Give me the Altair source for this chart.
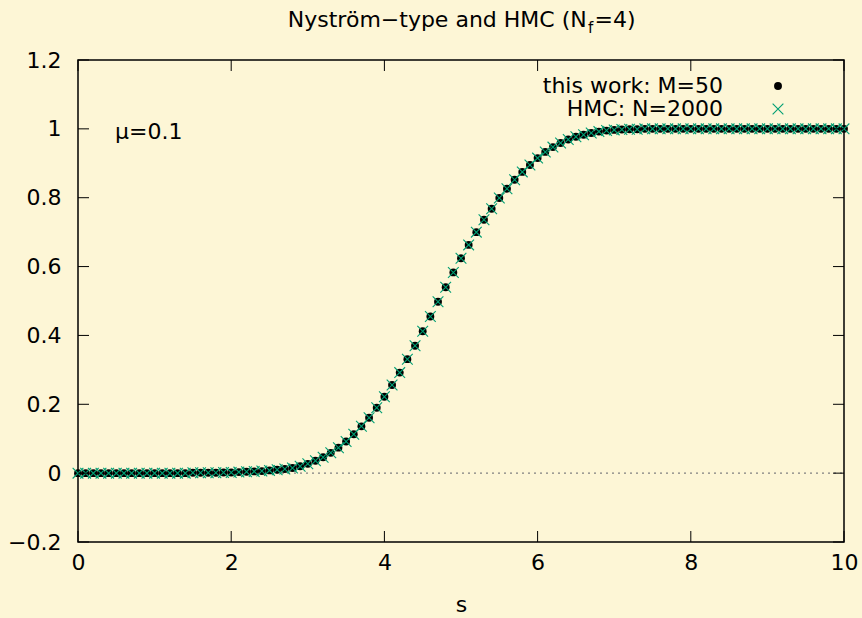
import altair as alt
import pandas as pd

# ---------------- data ----------------
s_values = [
    0.0, 0.1, 0.2, 0.3, 0.4, 0.5, 0.6, 0.7, 0.8, 0.9,
    1.0, 1.1, 1.2, 1.3, 1.4, 1.5, 1.6, 1.7, 1.8, 1.9,
    2.0, 2.1, 2.2, 2.3, 2.4, 2.5, 2.6, 2.7, 2.8, 2.9,
    3.0, 3.1, 3.2, 3.3, 3.4, 3.5, 3.6, 3.7, 3.8, 3.9,
    4.0, 4.1, 4.2, 4.3, 4.4, 4.5, 4.6, 4.7, 4.8, 4.9,
    5.0, 5.1, 5.2, 5.3, 5.4, 5.5, 5.6, 5.7, 5.8, 5.9,
    6.0, 6.1, 6.2, 6.3, 6.4, 6.5, 6.6, 6.7, 6.8, 6.9,
    7.0, 7.1, 7.2, 7.3, 7.4, 7.5, 7.6, 7.7, 7.8, 7.9,
    8.0, 8.1, 8.2, 8.3, 8.4, 8.5, 8.6, 8.7, 8.8, 8.9,
    9.0, 9.1, 9.2, 9.3, 9.4, 9.5, 9.6, 9.7, 9.8, 9.9,
    10.0,
]

this_work_m50 = [
    0.000, 0.000, 0.000, 0.000, 0.000, 0.000, 0.000, 0.000, 0.000, 0.000,
    0.000, 0.000, 0.000, 0.000, 0.000, 0.001, 0.001, 0.001, 0.001, 0.002,
    0.002, 0.003, 0.004, 0.005, 0.006, 0.008, 0.010, 0.012, 0.015, 0.020,
    0.027, 0.036, 0.046, 0.059, 0.074, 0.092, 0.113, 0.136, 0.161, 0.190,
    0.222, 0.256, 0.292, 0.331, 0.370, 0.412, 0.455, 0.498, 0.540, 0.583,
    0.624, 0.663, 0.700, 0.736, 0.768, 0.799, 0.826, 0.852, 0.875, 0.895,
    0.915, 0.933, 0.947, 0.959, 0.969, 0.977, 0.983, 0.988, 0.992, 0.995,
    0.997, 0.998, 0.999, 0.999, 1.000, 1.000, 1.000, 1.000, 1.000, 1.000,
    1.000, 1.000, 1.000, 1.000, 1.000, 1.000, 1.000, 1.000, 1.000, 1.000,
    1.000, 1.000, 1.000, 1.000, 1.000, 1.000, 1.000, 1.000, 1.000, 1.000,
    1.000,
]

hmc_n2000 = [
    0.000, 0.000, 0.000, 0.000, 0.000, 0.000, 0.000, 0.000, 0.000, 0.000,
    0.000, 0.000, 0.000, 0.000, 0.000, 0.001, 0.001, 0.001, 0.001, 0.002,
    0.002, 0.003, 0.004, 0.005, 0.006, 0.008, 0.010, 0.012, 0.015, 0.020,
    0.027, 0.036, 0.046, 0.059, 0.074, 0.092, 0.113, 0.136, 0.161, 0.190,
    0.222, 0.256, 0.292, 0.331, 0.370, 0.412, 0.455, 0.498, 0.540, 0.583,
    0.624, 0.663, 0.700, 0.736, 0.768, 0.799, 0.826, 0.852, 0.875, 0.895,
    0.915, 0.933, 0.947, 0.959, 0.969, 0.977, 0.983, 0.988, 0.992, 0.995,
    0.997, 0.998, 0.999, 0.999, 1.000, 1.000, 1.000, 1.000, 1.000, 1.000,
    1.000, 1.000, 1.000, 1.000, 1.000, 1.000, 1.000, 1.000, 1.000, 1.000,
    1.000, 1.000, 1.000, 1.000, 1.000, 1.000, 1.000, 1.000, 1.000, 1.000,
    1.000,
]

series_labels = ["this work: M=50", "HMC: N=2000"]
x_ticks = [0, 2, 4, 6, 8, 10]
y_ticks = [-0.2, 0.0, 0.2, 0.4, 0.6, 0.8, 1.0, 1.2]
x_domain = [0, 10]
y_domain = [-0.2, 1.2]
zero_line = {"v": [0.0], "s": [0.0], "s2": [10.0]}
title_main = "Nyström\u2212type and HMC (N"
title_sub = "f"
title_tail = "=4)"
annotation = "\u03bc=0.1"
x_title = "s"

# ---------------- styling ----------------
W, H = 766, 482
BG = "#fdf6d6"
FONT = "DejaVu Sans"
FS = 22
TEAL = "#009e73"
TICK = 11

df_tw = pd.DataFrame({"s": s_values, "v": this_work_m50})
df_hmc = pd.DataFrame({"s": s_values, "v": hmc_n2000})

xs = alt.Scale(domain=x_domain, nice=False, zero=False)
ys = alt.Scale(domain=y_domain, nice=False, zero=False)

x_axis = alt.Axis(values=x_ticks, ticks=False, domain=False, grid=False,
                  labelFlush=False, labelPadding=10, labelFontSize=FS,
                  labelFont=FONT, labelColor="black", title=x_title,
                  titleFont=FONT, titleFontSize=FS, titleFontWeight="normal",
                  titleColor="black", titlePadding=21, format="~g")
y_axis = alt.Axis(values=y_ticks, ticks=False, domain=False, grid=False,
                  labelPadding=17, labelFontSize=FS, labelFont=FONT,
                  labelColor="black", title=None, format="~g")

dots = alt.Chart(df_tw).mark_point(
    shape="circle", filled=True, size=62, color="black", opacity=1
).encode(
    x=alt.X("s:Q", scale=xs, axis=x_axis),
    y=alt.Y("v:Q", scale=ys, axis=y_axis),
)

cross_shape = "M-1,-1L1,1M-1,1L1,-1"
crosses = alt.Chart(df_hmc).mark_point(
    shape=cross_shape, filled=False, size=115, color=TEAL, strokeWidth=1.1, opacity=1
).encode(x="s:Q", y="v:Q")

zero = alt.Chart(pd.DataFrame(zero_line)).mark_rule(
    color="#808080", strokeDash=[2, 4], strokeWidth=1.3
).encode(x="s:Q", x2="s2:Q", y="v:Q")

xt = pd.DataFrame({"s": x_ticks})
yt = pd.DataFrame({"v": y_ticks})
tick_bottom = alt.Chart(xt).mark_rule(color="black", strokeWidth=1).encode(
    x="s:Q", y=alt.value(H), y2=alt.value(H - TICK))
tick_top = alt.Chart(xt).mark_rule(color="black", strokeWidth=1).encode(
    x="s:Q", y=alt.value(0), y2=alt.value(TICK))
tick_left = alt.Chart(yt).mark_rule(color="black", strokeWidth=1).encode(
    y="v:Q", x=alt.value(0), x2=alt.value(TICK))
tick_right = alt.Chart(yt).mark_rule(color="black", strokeWidth=1).encode(
    y="v:Q", x=alt.value(W), x2=alt.value(W - TICK))

def text_at(txt, x, y, align="left", size=FS, baseline="middle"):
    return alt.Chart(pd.DataFrame({"t": [txt]})).mark_text(
        align=align, baseline=baseline, font=FONT, fontSize=size, color="black"
    ).encode(text="t:N", x=alt.value(x), y=alt.value(y))

# legend (manual, gnuplot style)
leg1_text = text_at(series_labels[0], 645, 26, align="right")
leg2_text = text_at(series_labels[1], 645, 49, align="right")
leg1_sym = alt.Chart(pd.DataFrame({"t": [series_labels[0]]})).mark_point(
    shape="circle", filled=True, size=62, color="black", opacity=1
).encode(x=alt.value(700), y=alt.value(26))
leg2_sym = alt.Chart(pd.DataFrame({"t": [series_labels[1]]})).mark_point(
    shape=cross_shape, filled=False, size=115, color=TEAL, strokeWidth=1.1, opacity=1
).encode(x=alt.value(700), y=alt.value(49))

mu_text = text_at(annotation, 37, 72)

# title with subscript
t1 = text_at(title_main, 508.7, -32.7, align="right", baseline="alphabetic")
t2 = text_at(title_sub, 510, -27.5, align="left", size=15, baseline="alphabetic")
t3 = text_at(title_tail, 516.5, -32.7, align="left", baseline="alphabetic")

chart = alt.layer(
    zero, dots, crosses,
    tick_bottom, tick_top, tick_left, tick_right,
    leg1_text, leg2_text, leg1_sym, leg2_sym, mu_text, t1, t2, t3,
).properties(
    width=W, height=H, background=BG,
    padding={"left": 78, "top": 60, "right": 18, "bottom": 76},
    autosize=alt.AutoSizeParams(type="none"),
).configure_view(stroke="black", strokeWidth=1.5, fill=BG)

chart.save("out.html", embed_options={"renderer": "svg", "actions": False})
